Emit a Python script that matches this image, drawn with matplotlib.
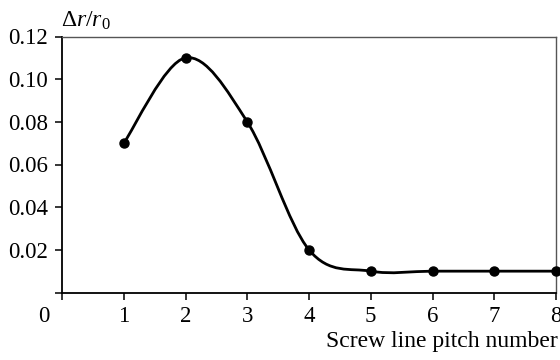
import matplotlib
matplotlib.use("Agg")
import matplotlib.pyplot as plt
from matplotlib.path import Path
from matplotlib.patches import PathPatch

pitch = [1, 2, 3, 4, 5, 6, 7, 8]
dr_ratio = [0.07, 0.11, 0.08, 0.02, 0.01, 0.01, 0.01, 0.01]
xticks = [0, 1, 2, 3, 4, 5, 6, 7, 8]
yticks = [0, 0.02, 0.04, 0.06, 0.08, 0.10, 0.12]

plt.rcParams["font.family"] = "Liberation Serif"
plt.rcParams["mathtext.fontset"] = "custom"
plt.rcParams["mathtext.rm"] = "Liberation Serif"
plt.rcParams["mathtext.it"] = "Liberation Serif:italic"


def smooth_path(xs, ys):
    # smoothed line like a spreadsheet chart: Catmull-Rom as cubic Bezier
    pts = list(zip(xs, ys))
    verts = [pts[0]]
    codes = [Path.MOVETO]
    n = len(pts)
    for i in range(n - 1):
        p0 = pts[i - 1] if i > 0 else pts[i]
        p1 = pts[i]
        p2 = pts[i + 1]
        p3 = pts[i + 2] if i + 2 < n else pts[i + 1]
        c1 = (p1[0] + (p2[0] - p0[0]) / 6, p1[1] + (p2[1] - p0[1]) / 6)
        c2 = (p2[0] - (p3[0] - p1[0]) / 6, p2[1] - (p3[1] - p1[1]) / 6)
        verts += [c1, c2, p2]
        codes += [Path.CURVE4] * 3
    return Path(verts, codes)


fig = plt.figure(figsize=(5.6, 3.6), dpi=100)
ax = fig.add_axes([62 / 560, 1 - 292.5 / 360, 494 / 560, 256 / 360])

ax.add_patch(PathPatch(smooth_path(pitch, dr_ratio), fill=False,
                       edgecolor="black", lw=2.0, clip_on=False))
ax.plot(pitch, dr_ratio, "o", color="black", ms=6.5, clip_on=False, zorder=3)

ax.set_xlim(0, 8)
ax.set_ylim(0, 0.12)
ax.set_xticks(xticks)
ax.set_xticklabels([""] + [str(v) for v in xticks[1:]])
ax.set_yticks(yticks)
ax.set_yticklabels([""] + ["%.2f" % v for v in yticks[1:]])
ax.tick_params(direction="out", length=5, width=1.1, labelsize=16.5,
               colors="black", pad=5)

for side in ["left", "bottom"]:
    ax.spines[side].set_linewidth(1.3)
    ax.spines[side].set_color("black")
for side in ["top", "right"]:
    ax.spines[side].set_linewidth(1.0)
    ax.spines[side].set_color("#555555")

fig.text(44 / 560, 1 - 316 / 360, "0", fontsize=16.5, ha="center", va="center")
fig.text(61 / 560, 1 - 21 / 360, r"$\Delta r/r_0$", fontsize=17,
         ha="left", va="center")
fig.text(558 / 560, 1 - 342 / 360, "Screw line pitch number", fontsize=17,
         ha="right", va="center")

fig.savefig("out.png", dpi=100)
